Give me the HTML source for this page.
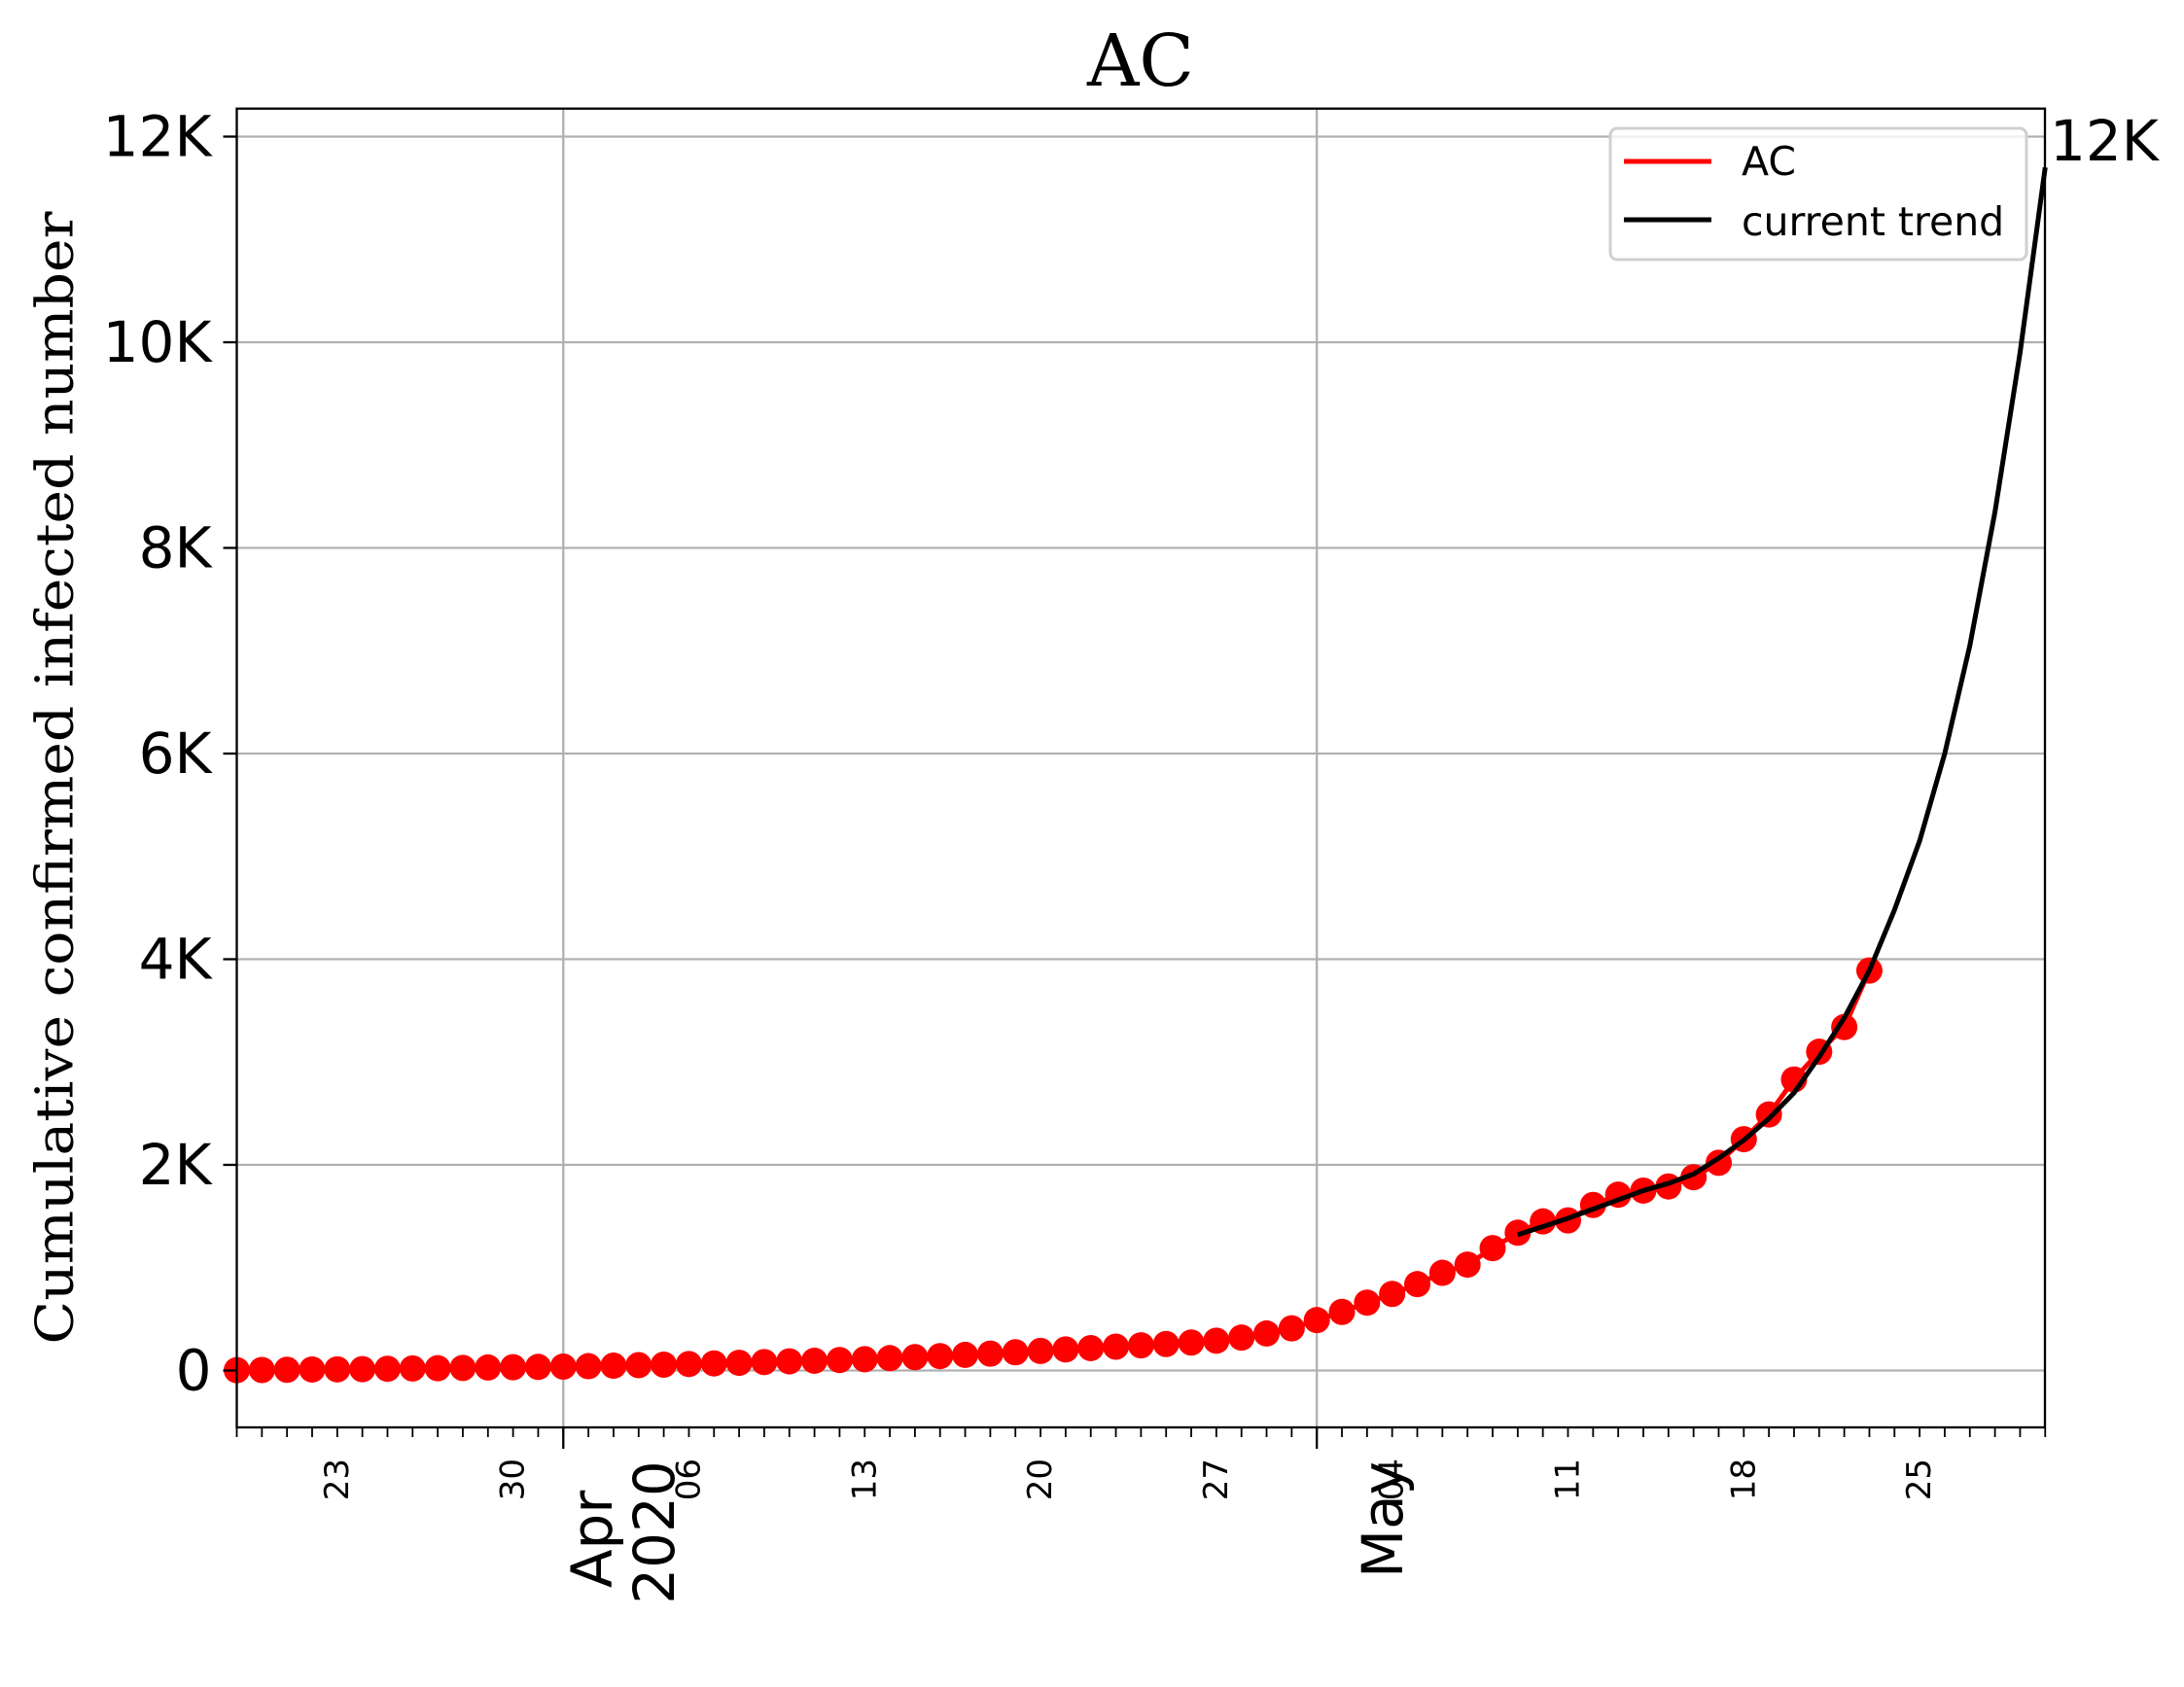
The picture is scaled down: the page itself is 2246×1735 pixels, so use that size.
<!DOCTYPE html>
<html><head><meta charset="utf-8"><style>
html,body{margin:0;padding:0;background:#fff;}
svg{display:block;}
</style></head><body>
<svg id="chart" width="2246" height="1735" viewBox="0 0 2246 1735" xmlns="http://www.w3.org/2000/svg">
<rect x="0" y="0" width="2246" height="1735" fill="#fff"/>
<text x="1173" y="88" font-family="'DejaVu Serif','Liberation Serif',serif" font-size="74" text-anchor="middle">AC</text>
<text transform="translate(57,800) rotate(-90)" font-family="'DejaVu Serif','Liberation Serif',serif" font-size="53" text-anchor="middle" dominant-baseline="central" textLength="1165" lengthAdjust="spacingAndGlyphs">Cumulative confirmed infected number</text>
<g id="grid"></g>
<g id="series"></g>
<g id="axes"></g>
<text x="2108" y="165" font-family="'DejaVu Sans','Liberation Sans',sans-serif" font-size="58">12K</text>
<g>
<rect x="1656" y="132" width="428" height="135" rx="7" fill="#fff" fill-opacity="0.8" stroke="#d0d0d0" stroke-width="3"/>
<line x1="1670" y1="166" x2="1760" y2="166" stroke="#ff0000" stroke-width="5"/>
<text x="1791" y="180" font-family="'DejaVu Sans','Liberation Sans',sans-serif" font-size="41">AC</text>
<line x1="1670" y1="226" x2="1760" y2="226" stroke="#000" stroke-width="5"/>
<text x="1791" y="242" font-family="'DejaVu Sans','Liberation Sans',sans-serif" font-size="41">current trend</text>
</g>
</svg>
<script>
// day index 0 = Mar 19
const acValues = [3,5,7,10,11,13,17,20,22,25,29,32,35,
38,42,47,52,57,63,69,75,82,89,95,102,110,120,130,140,152,164,177,190,205,218,232,245,258,272,290,320,360,410,
490,570,660,745,840,950,1030,1190,1340,1450,1460,1610,1710,1750,1790,1880,2020,2250,2490,2830,3100,3340,3890];
const trendStartDay = 51;
const trendValues = [1320,1400,1480,1570,1660,1750,1820,1910,2065,2240,2450,2700,3050,3430,3890,4480,5150,6000,7050,8350,9900,11700];
const yTicks = [0,2000,4000,6000,8000,10000,12000];
const yTickLabels = ["0","2K","4K","6K","8K","10K","12K"];
const minorTickDays = [4,11,18,25,32,39,46,53,60,67];
const minorTickLabels = ["23","30","06","13","20","27","04","11","18","25"];
const majorTickDays = [13,43];

const L=243.5,R=2103,T=111.7,B=1468;
const dayPx=25.83;
function xS(d){return L+d*dayPx;}
function yS(v){return 1409.5-v*0.10575;}
const NS="http://www.w3.org/2000/svg";
function mk(tag,attrs,parent){const e=document.createElementNS(NS,tag);for(const k in attrs)e.setAttribute(k,attrs[k]);parent.appendChild(e);return e;}
const grid=document.getElementById('grid'),series=document.getElementById('series'),axes=document.getElementById('axes');
const FS="'DejaVu Sans','Liberation Sans',sans-serif";

yTicks.forEach((v,i)=>{
  const y=yS(v);
  const g=mk('line',{x1:L,x2:R,y1:y,y2:y,stroke:'#b0b0b0','stroke-width':2.3},grid);
  
  
  const t=mk('line',{x1:L-14,x2:L,y1:y,y2:y,stroke:'#000','stroke-width':2.3},axes);
  
  
  const tx=mk('text',{x:L-26,y:y,'font-family':FS,'font-size':58,'text-anchor':'end','dominant-baseline':'central'},axes);
  tx.textContent=yTickLabels[i];
  
  
});
majorTickDays.forEach(d=>{
  const x=xS(d);
  const g=mk('line',{x1:x,x2:x,y1:T,y2:B,stroke:'#b0b0b0','stroke-width':2.3},grid);
  
  
  const t=mk('line',{x1:x,x2:x,y1:B,y2:B+22,stroke:'#000','stroke-width':2.3},axes);
  
  
});
for(let d=0;d<=72;d++){
  const x=xS(d);
  const t=mk('line',{x1:x,x2:x,y1:B,y2:B+10,stroke:'#000','stroke-width':1.8},axes);
  
  
}
minorTickDays.forEach((d,i)=>{
  const x=xS(d);
  const tx=mk('text',{transform:`translate(${x},1500) rotate(-90)`,'font-family':FS,'font-size':34,'text-anchor':'end','dominant-baseline':'central'},axes);
  tx.textContent=minorTickLabels[i];
  
  
});
[["Apr",609,1583],["2020",673,1576],["May",1422,1563]].forEach(m=>{
  const tx=mk('text',{transform:`translate(${m[1]},${m[2]}) rotate(-90)`,'font-family':FS,'font-size':58,'text-anchor':'middle','dominant-baseline':'central'},axes);
  tx.textContent=m[0];
  
  
});
const frame=mk('rect',{x:L,y:T,width:R-L,height:B-T,fill:'none',stroke:'#000','stroke-width':2.3},axes);



const acLine=mk('polyline',{points:acValues.map((v,i)=>xS(i)+','+yS(v)).join(' '),fill:'none',stroke:'#ff0000','stroke-width':5},series);


acValues.forEach((v,i)=>{
  const c=mk('circle',{cx:xS(i),cy:yS(v),r:13.5,fill:'#ff0000'},series);
  
  
});
const tr=mk('polyline',{points:trendValues.map((v,i)=>xS(trendStartDay+i)+','+yS(v)).join(' '),fill:'none',stroke:'#000','stroke-width':5,'stroke-linejoin':'round'},series);


</script>
</body></html>
